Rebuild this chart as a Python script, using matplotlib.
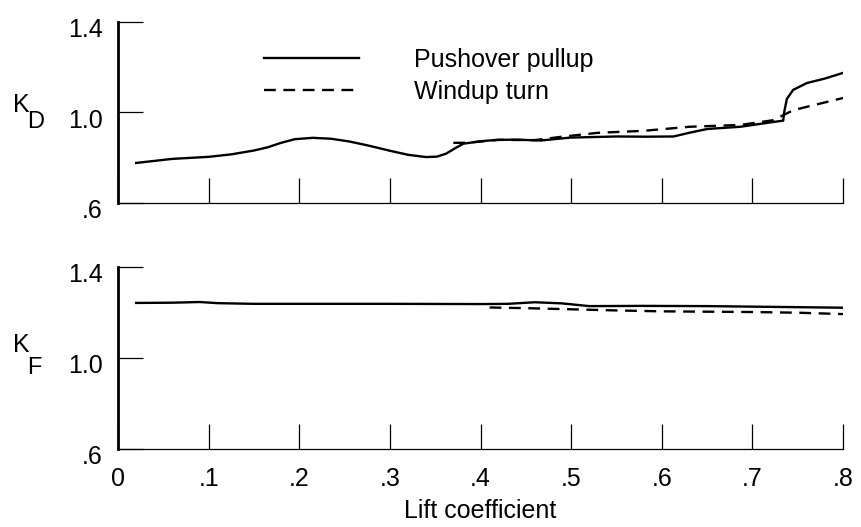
import numpy as np
import matplotlib
matplotlib.use("Agg")
import matplotlib.pyplot as plt
from matplotlib.transforms import ScaledTranslation

plt.rcParams["font.family"] = ["Liberation Sans Narrow", "Liberation Sans", "DejaVu Sans"]

# K_D panel
kd_push_x = [0.02, 0.06, 0.10, 0.125, 0.15, 0.165, 0.18, 0.195, 0.215, 0.235, 0.255,
             0.275, 0.30, 0.32, 0.34, 0.352, 0.362, 0.372, 0.381, 0.40, 0.418, 0.44,
             0.466, 0.499, 0.55, 0.584, 0.613, 0.63, 0.65, 0.687, 0.716, 0.734, 0.735,
             0.738, 0.745, 0.76, 0.78, 0.80]
kd_push_y = [0.777, 0.795, 0.804, 0.815, 0.832, 0.846, 0.866, 0.882, 0.888, 0.884,
             0.872, 0.855, 0.831, 0.813, 0.803, 0.805, 0.818, 0.842, 0.862, 0.873,
             0.879, 0.880, 0.876, 0.889, 0.894, 0.893, 0.894, 0.910, 0.927, 0.937,
             0.954, 0.964, 1.00, 1.06, 1.10, 1.13, 1.15, 1.175]
kd_wind_x = [0.37, 0.385, 0.42, 0.46, 0.488, 0.529, 0.58, 0.631, 0.687, 0.723, 0.745,
             0.76, 0.80]
kd_wind_y = [0.866, 0.866, 0.879, 0.878, 0.892, 0.91, 0.919, 0.937, 0.945, 0.966, 1.01,
             1.025, 1.064]

# K_F panel
kf_push_x = [0.02, 0.06, 0.09, 0.11, 0.15, 0.2, 0.3, 0.4, 0.43, 0.46, 0.49, 0.52,
             0.58, 0.65, 0.8]
kf_push_y = [1.242, 1.243, 1.246, 1.241, 1.238, 1.238, 1.238, 1.237, 1.238, 1.245,
             1.24, 1.228, 1.229, 1.228, 1.221]
kf_wind_x = [0.41, 0.45, 0.50, 0.55, 0.60, 0.70, 0.75, 0.80]
kf_wind_y = [1.222, 1.219, 1.214, 1.209, 1.205, 1.202, 1.199, 1.193]

xticks = [0, 0.1, 0.2, 0.3, 0.4, 0.5, 0.6, 0.7, 0.8]
xlabels = ["0", ".1", ".2", ".3", ".4", ".5", ".6", ".7", ".8"]
yticks = [0.6, 1.0, 1.4]
ylabels = [".6", "1.0", "1.4"]

fig = plt.figure(figsize=(8.62, 5.27), dpi=100)
ax1 = fig.add_axes([0.1369, 0.6148, 0.8411, 0.3435])
ax2 = fig.add_axes([0.1369, 0.148, 0.8411, 0.3454])

for ax in (ax1, ax2):
    ax.set_xlim(0, 0.8)
    ax.set_ylim(0.6, 1.4)
    ax.spines["top"].set_visible(False)
    ax.spines["right"].set_visible(False)
    ax.spines["left"].set_linewidth(2.0)
    ax.spines["bottom"].set_linewidth(0.9)
    ax.set_xticks(xticks)
    ax.set_yticks(yticks)
    ax.set_yticklabels(ylabels)
    ax.tick_params(direction="in", length=18, width=0.9, labelsize=18,
                   colors="black")
    ax.tick_params(axis="y", pad=11)
    ax.tick_params(axis="x", pad=13)
    for lab in ax.get_yticklabels():
        lab.set_transform(lab.get_transform()
                          + ScaledTranslation(0, -4 / 72, fig.dpi_scale_trans))

ax1.set_xticklabels([])
ax2.set_xticklabels(xlabels)

ax1.plot(kd_push_x, kd_push_y, "-", color="black", lw=1.7, label="Pushover pullup")
ax1.plot(kd_wind_x, kd_wind_y, "--", color="black", lw=1.7, dashes=(5, 3.2),
         label="Windup turn")
ax2.plot(kf_push_x, kf_push_y, "-", color="black", lw=1.7)
ax2.plot(kf_wind_x, kf_wind_y, "--", color="black", lw=1.7, dashes=(5, 3.2))

ax1.legend(loc="upper left", bbox_to_anchor=(0.17, 0.98), frameon=False,
           fontsize=18, handlelength=3.8, handletextpad=2.2, labelspacing=0.3)

ax2.set_xlabel("Lift coefficient", fontsize=18, labelpad=6)

fig.text(0.015, 0.80, "K", fontsize=18, va="center")
fig.text(0.032, 0.768, "D", fontsize=17, va="center")
fig.text(0.015, 0.345, "K", fontsize=18, va="center")
fig.text(0.032, 0.302, "F", fontsize=17, va="center")

fig.savefig("out.png", dpi=100)
